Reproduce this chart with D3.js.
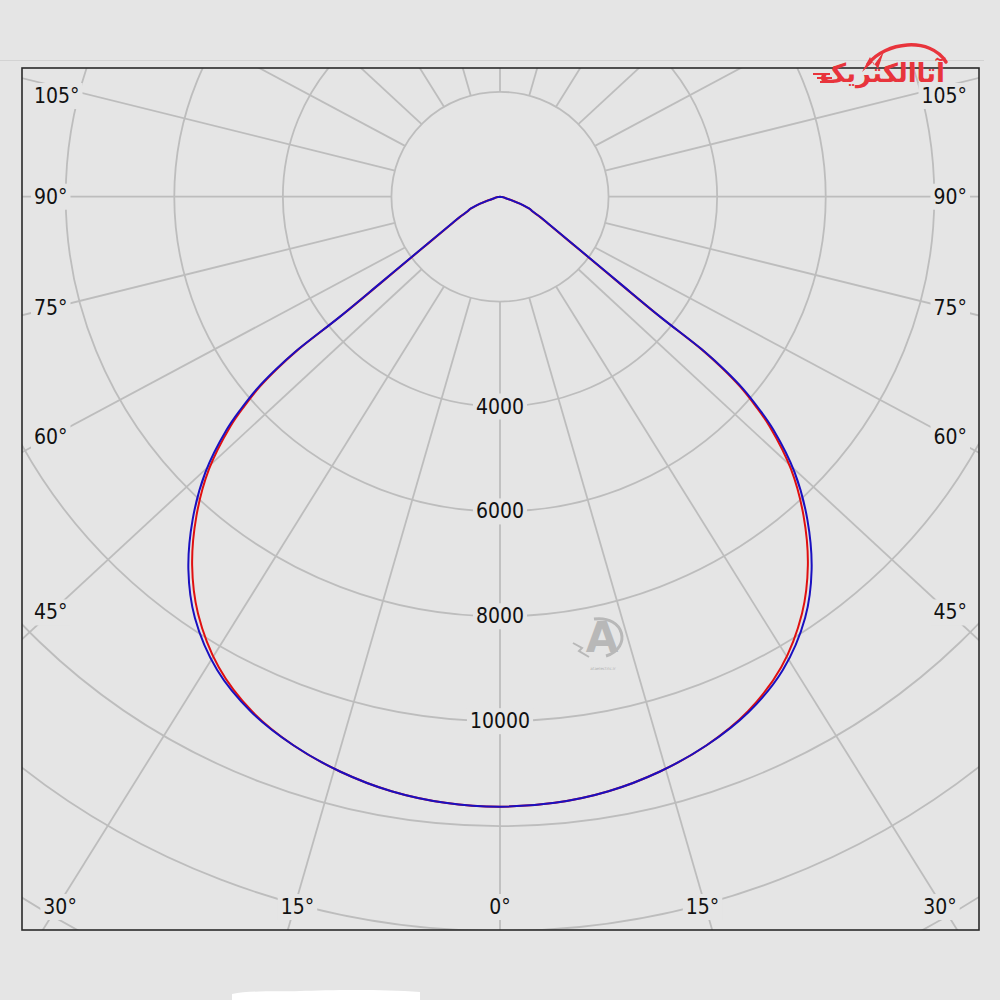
<!DOCTYPE html>
<html>
<head>
<meta charset="utf-8">
<script src="https://cdn.jsdelivr.net/npm/d3@7"></script>
<style>
  html, body { margin: 0; padding: 0; background: #e5e5e5; }
  svg { display: block; }
</style>
</head>
<body>
<svg id="chart" width="1000" height="1000"></svg>
<script>
// ---------------- data ----------------
const curveAngles = [0, 5, 10, 15, 20, 25, 30, 35, 38.9, 42.6, 45.9, 48.6, 49.7, 50.7, 51.4, 51.9, 52.2, 53.2, 55.4, 59.6, 62.5, 65, 67, 68, 70, 72, 75, 80, 90];
const blueValues  = [11630, 11600, 11510, 11350, 11130, 10840, 10420, 9800, 9141, 8365, 7560, 6707, 6258, 5791, 5304, 4798, 3730, 2759, 1790, 1067, 830, 660, 600, 530, 390, 240, 110, 40, 0];
const redValues   = [11630, 11600, 11510, 11350, 11130, 10820, 10360, 9700, 9031, 8260, 7465, 6622, 6178, 5716, 5234, 4733, 3680, 2719, 1765, 1055, 822, 655, 597, 527, 387, 238, 109, 40, 0];
const ringValues  = [2000, 4000, 6000, 8000, 10000, 12000, 14000, 16000, 18000];
const ringLabelValues = [4000, 6000, 8000, 10000];
const spokeAngles = [0, 15, 30, 45, 60, 75, 90, 105, 120, 135, 150, 165, 180, 195, 210, 225, 240, 255, 270, 285, 300, 315, 330, 345];
const sideLabelAngles = [105, 90, 75, 60, 45];
const bottomLabelAngles = [-30, -15, 0, 15, 30];

// ---------------- layout ----------------
const W = 1000, H = 1000;
const frame = { x: 22, y: 68, w: 957, h: 862 };
const cx = 500, cy = 196.7;
const sx = 1.035;     // horizontal stretch of rings and curves in the reference
const sSpoke = 1.08;  // spokes in the reference fan out slightly wider
const r = d3.scaleLinear().domain([0, 2000]).range([0, 104.9]);
const gridColor = "#bdbdbd";
const fontFam = "'DejaVu Sans Condensed', 'DejaVu Sans', sans-serif";

const svg = d3.select("#chart");
svg.append("rect").attr("width", W).attr("height", H).attr("fill", "#e5e5e5");
svg.append("line").attr("x1", 0).attr("x2", 984).attr("y1", 60.5).attr("y2", 60.5)
   .attr("stroke", "#d3d3d3").attr("stroke-width", 1);

// white scan artefacts at the bottom
svg.append("path").attr("d", "M232,994 C250,990 280,992 300,991 C330,990 380,989 420,992 L420,1000 L232,1000 Z")
   .attr("fill", "#ffffff");

const defs = svg.append("defs");
defs.append("clipPath").attr("id", "plotClip").append("rect")
  .attr("x", frame.x).attr("y", frame.y).attr("width", frame.w).attr("height", frame.h);

const plot = svg.append("g").attr("clip-path", "url(#plotClip)");
const polar = plot.append("g").attr("transform", `translate(${cx},${cy}) scale(${sx},1)`);

// rings
polar.selectAll("circle.ring").data(ringValues).join("circle")
  .attr("class", "ring").attr("r", d => r(d))
  .attr("fill", "none").attr("stroke", gridColor).attr("stroke-width", 1.8)
  .attr("vector-effect", "non-scaling-stroke");

// spokes: start on the inner ring, run out past the frame
function spokeDir(a) {
  const t = a * Math.PI / 180;
  const dx = sSpoke * Math.sin(t), dy = Math.cos(t);
  const n = Math.hypot(dx, dy);
  return [dx / n, dy / n];
}
const r0 = r(2000);
const segLine = d3.line();
plot.selectAll("path.spoke").data(spokeAngles).join("path")
  .attr("class", "spoke")
  .attr("d", a => {
    const [dx, dy] = spokeDir(a);
    const t0 = 1 / Math.sqrt((dx * dx) / (sx * sx * r0 * r0) + (dy * dy) / (r0 * r0));
    const t1 = 1500;
    return segLine([[cx + dx * t0, cy + dy * t0], [cx + dx * t1, cy + dy * t1]]);
  })
  .attr("fill", "none").attr("stroke", gridColor).attr("stroke-width", 1.8);

// curves
function fullSeries(vals) {
  const pts = [];
  for (let i = curveAngles.length - 1; i > 0; i--) pts.push([-curveAngles[i], vals[i]]);
  for (let i = 0; i < curveAngles.length; i++) pts.push([curveAngles[i], vals[i]]);
  return pts;
}
const curveLine = d3.lineRadial()
  .angle(d => Math.PI - d[0] * Math.PI / 180)
  .radius(d => r(d[1]))
  .curve(d3.curveCatmullRom.alpha(0.5));

// labels with background boxes hiding the grid
const labels = svg.append("g");
function boxedText(x, y, txt, anchor) {
  const g = labels.append("g");
  const t = g.append("text").attr("x", x).attr("y", y).attr("text-anchor", anchor)
    .attr("dominant-baseline", "central")
    .attr("font-family", fontFam).attr("font-size", 21).attr("fill", "#111").text(txt);
  const bb = t.node().getBBox();
  g.insert("rect", "text").attr("x", bb.x - 3).attr("y", bb.y - 1)
    .attr("width", bb.width + 6).attr("height", bb.height + 2).attr("fill", "#e5e5e5");
}

ringLabelValues.forEach(v => boxedText(cx, cy + r(v), String(v), "middle"));

const leftX = 51, bottomY = 907, topY = 96;
sideLabelAngles.forEach(a => {
  const [dx, dy] = spokeDir(a);
  let y = cy + (cx - leftX) / dx * dy;
  y = Math.max(topY, Math.min(bottomY, y));
  boxedText(34, y, a + "°", "start");
  boxedText(967, y, a + "°", "end");
});
bottomLabelAngles.forEach(a => {
  const [dx, dy] = spokeDir(a);
  const x = cx + (bottomY - cy) / dy * dx;
  boxedText(x - Math.sign(a) * 3, bottomY, Math.abs(a) + "°", "middle");
});

// curves on top
const curves = svg.append("g").attr("transform", `translate(${cx},${cy}) scale(${sx},1)`);
curves.append("path").datum(fullSeries(redValues)).attr("d", curveLine)
  .attr("fill", "none").attr("stroke", "#e01010").attr("stroke-width", 2)
  .attr("vector-effect", "non-scaling-stroke");
curves.append("path").datum(fullSeries(blueValues)).attr("d", curveLine)
  .attr("fill", "none").attr("stroke", "#1a10c0").attr("stroke-width", 2)
  .attr("vector-effect", "non-scaling-stroke");

// frame
svg.append("rect").attr("x", frame.x).attr("y", frame.y).attr("width", frame.w).attr("height", frame.h)
  .attr("fill", "none").attr("stroke", "#2a2a2a").attr("stroke-width", 1.6);

// watermark
const wm = svg.append("g");
wm.append("text").attr("x", 602).attr("y", 652).attr("text-anchor", "middle")
  .attr("font-family", "'DejaVu Sans', sans-serif").attr("font-weight", "bold").attr("font-size", 42)
  .attr("fill", "#b8b8b8").text("A");
wm.append("path").attr("d", "M594,619 C625,615 632,648 606,656").attr("fill", "none")
  .attr("stroke", "#b8b8b8").attr("stroke-width", 3);
wm.append("path").attr("d", "M573,643 L582,648 L579,651 L589,657").attr("fill", "none")
  .attr("stroke", "#b8b8b8").attr("stroke-width", 2);
wm.append("text").attr("x", 603).attr("y", 670).attr("text-anchor", "middle")
  .attr("font-family", "'DejaVu Sans', sans-serif").attr("font-size", 4).attr("fill", "#b0b0b0")
  .text("ataelectric.ir");

// logo
const logo = svg.append("g");
logo.append("path").attr("d", "M868,64 C885,42 930,36 946,62")
  .attr("fill", "none").attr("stroke", "#e8343c").attr("stroke-width", 3.5).attr("stroke-linecap", "round");
logo.append("path").attr("d", "M862,72 L870,57 L874,65 L884,51 L878,69 L873,62 Z").attr("fill", "#e8343c");
logo.append("text").attr("x", 945).attr("y", 82).attr("text-anchor", "end")
  .attr("font-family", "'DejaVu Sans', sans-serif").attr("font-weight", "bold").attr("font-size", 26)
  .attr("fill", "#e8343c").text("آتاالکتریک");
[[813, 74, 830], [817, 78, 832], [820, 82, 834]].forEach(d => {
  logo.append("line").attr("x1", d[0]).attr("x2", d[2]).attr("y1", d[1]).attr("y2", d[1])
    .attr("stroke", "#e8343c").attr("stroke-width", 2);
});
</script>
</body>
</html>
